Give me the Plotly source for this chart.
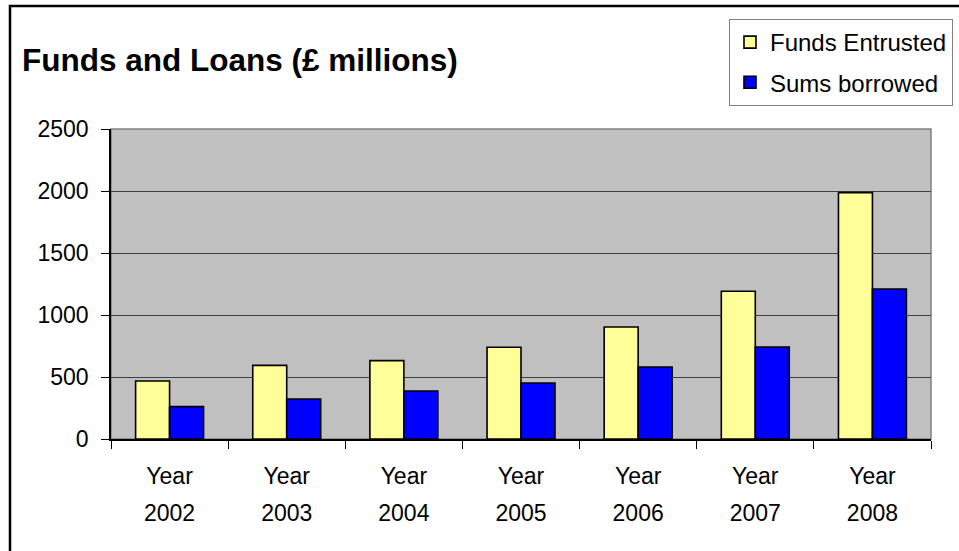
import plotly.graph_objects as go

years = ["2002", "2003", "2004", "2005", "2006", "2007", "2008"]
year_word = ["Year"] * 7
funds_entrusted = [468, 594, 632, 740, 903, 1191, 1987]
sums_borrowed = [261, 323, 387, 452, 581, 742, 1210]
y_ticks = [0, 500, 1000, 1500, 2000, 2500]

W, H = 959, 551
L, R, T, B = 111, 28, 129, 112
pw, ph = W - L - R, H - T - B

def px_x(px):
    return (px - L) / pw

def px_y(py):
    return (H - B - py) / ph

FONT = "Liberation Sans, Arial, sans-serif"
FS = 23

fig = go.Figure()
fig.add_trace(go.Bar(x=years, y=funds_entrusted, name="Funds Entrusted",
                     marker=dict(color="#FFFF99", line=dict(color="black", width=1.6)),
                     legendgroup="a"))
fig.add_trace(go.Bar(x=years, y=sums_borrowed, name="Sums borrowed",
                     marker=dict(color="#0000FF", line=dict(color="black", width=1.6)),
                     legendgroup="b"))
# helper (draws nothing) so the second label row axis is rendered
fig.add_trace(go.Scatter(x=years, y=[None] * 7, xaxis="x2", mode="lines",
                         showlegend=False, hoverinfo="skip"))

fig.update_layout(
    width=W, height=H,
    margin=dict(l=L, r=R, t=T, b=B, autoexpand=False),
    paper_bgcolor="white",
    plot_bgcolor="#C0C0C0",
    barmode="group", bargap=0.42, bargroupgap=0,
    font=dict(family=FONT, size=FS, color="black"),
    title=dict(text="<b>Funds and Loans (£ millions)</b>", x=22 / W, xanchor="left",
               xref="container", y=1 - 60 / H, yref="container", yanchor="middle",
               font=dict(family=FONT, size=31.5, color="black")),
    legend=dict(x=px_x(729), y=px_y(19), xanchor="left", yanchor="top",
                bordercolor="#808080", borderwidth=1, bgcolor="white",
                font=dict(family=FONT, size=24), tracegroupgap=6,
                traceorder="grouped"),
    showlegend=True,
    xaxis=dict(type="category", categoryarray=years, range=[-0.5, 6.5],
               tickvals=years, ticktext=year_word,
               showline=True, linecolor="black", linewidth=1.5,
               ticks="outside", tickson="boundaries", ticklen=8, tickcolor="black",
               showgrid=False, tickfont=dict(size=FS), ticklabelstandoff=16),
    xaxis2=dict(type="category", categoryarray=years, range=[-0.5, 6.5],
                overlaying="x", anchor="y", side="bottom",
                tickvals=years, ticktext=years, showline=False, ticks="",
                showgrid=False, zeroline=False, tickfont=dict(size=FS),
                ticklabelstandoff=58),
    yaxis=dict(range=[0, 2500], tickvals=y_ticks, showline=True, linecolor="black",
               linewidth=1.5, ticks="outside", ticklen=8, tickcolor="black",
               showgrid=True, gridcolor="#404040", gridwidth=1, zeroline=False,
               tickfont=dict(size=FS), ticklabelstandoff=8),
)

# plot-area frame (grey) and outer chart border
fig.add_shape(type="rect", xref="paper", yref="paper", x0=0, x1=1, y0=0, y1=1,
              line=dict(color="#808080", width=1.5), layer="below")
fig.add_shape(type="rect", xref="paper", yref="paper",
              x0=px_x(10), x1=px_x(1000), y0=px_y(6), y1=px_y(600),
              line=dict(color="black", width=2.5))

fig.write_html("out.html")
